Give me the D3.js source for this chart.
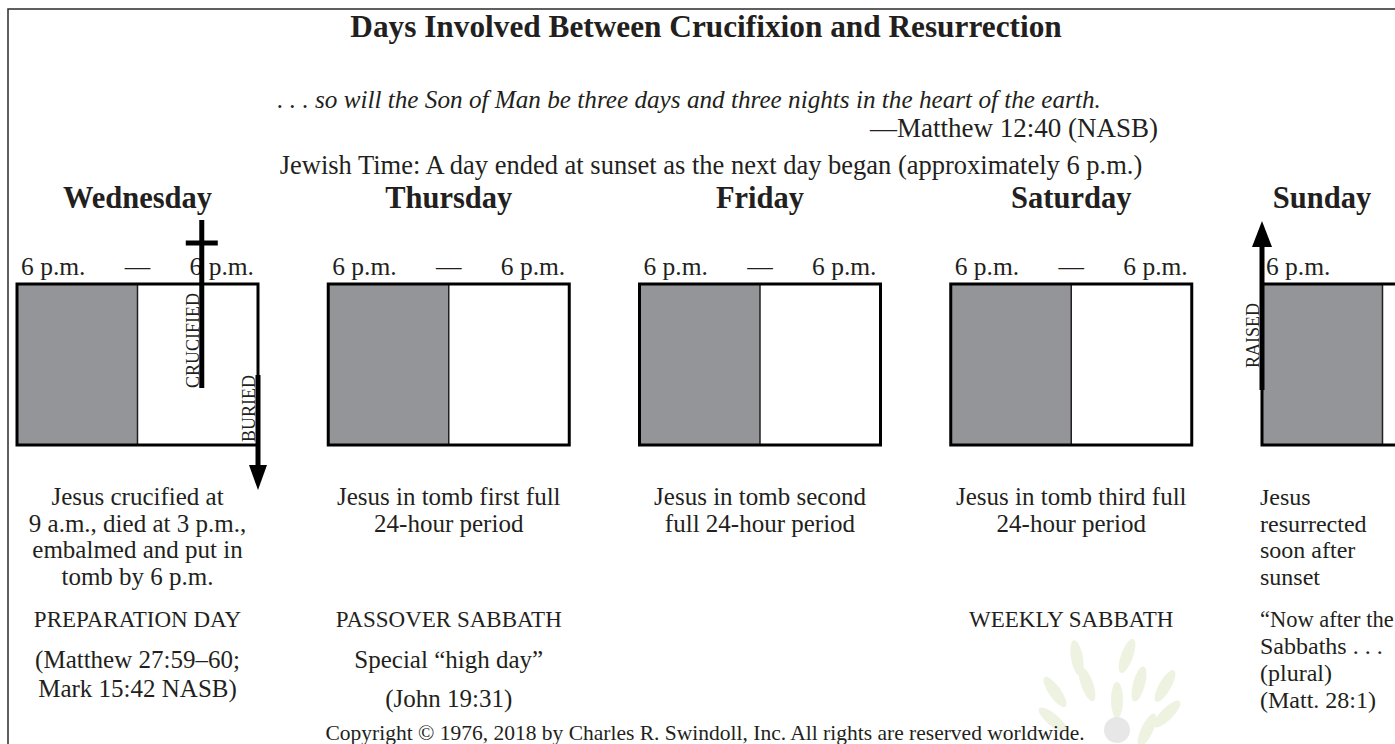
<!DOCTYPE html>
<html><head><meta charset="utf-8">
<script src="https://cdn.jsdelivr.net/npm/d3@7"></script>
<style>
html,body{margin:0;padding:0;background:#fff;overflow:hidden;}
svg{display:block;}
text{font-family:"Liberation Serif","Times New Roman",serif;fill:#231f20;}
</style></head><body>
<svg id="chart" width="1395" height="744"></svg>
<script>
// ---------- data ----------
const titleText = "Days Involved Between Crucifixion and Resurrection";
const quoteText = ". . . so will the Son of Man be three days and three nights in the heart of the earth.";
const quoteSource = "\u2014Matthew 12:40 (NASB)";
const jewishTime = "Jewish Time: A day ended at sunset as the next day began (approximately 6 p.m.)";
const copyrightText = "Copyright \u00a9 1976, 2018 by Charles R. Swindoll, Inc. All rights are reserved worldwide.";

const days = ["Wednesday", "Thursday", "Friday", "Saturday", "Sunday"];
const nightHours = [12, 12, 12, 12, 12];       // sunset (6 p.m.) to sunrise
const dayLength = 24;
const startLabels = ["6 p.m.", "6 p.m.", "6 p.m.", "6 p.m.", "6 p.m."];
const endLabels = ["6 p.m.", "6 p.m.", "6 p.m.", "6 p.m.", ""];
const descriptions = [
  ["Jesus crucified at", "9 a.m., died at 3 p.m.,", "embalmed and put in", "tomb by 6 p.m."],
  ["Jesus in tomb first full", "24-hour period"],
  ["Jesus in tomb second", "full 24-hour period"],
  ["Jesus in tomb third full", "24-hour period"],
  ["Jesus", "resurrected", "soon after", "sunset"]
];
const sabbathNames = ["PREPARATION DAY", "PASSOVER SABBATH", "", "WEEKLY SABBATH", "\u201cNow after the"];
const notes = [
  ["(Matthew 27:59\u201360;", "Mark 15:42 NASB)"],
  ["Special \u201chigh day\u201d", "(John 19:31)"],
  [],
  [],
  ["Sabbaths . . .", "(plural)", "(Matt. 28:1)"]
];
const eventDays = ["Wednesday", "Wednesday", "Sunday"];
const eventHours = [18.4, 24, 0];               // hours after the 6 p.m. start of the day
const eventLabels = ["CRUCIFIED", "BURIED", "RAISED"];
const eventKinds = ["cross", "down", "up"];

// ---------- layout ----------
const W = 1395, H = 744;
const L = {
  boxTop: 284, boxBottom: 445,
  titleY: 37, quoteY: 108, sourceY: 137, jewishY: 174, dayY: 208, timeY: 275,
  descY: 505, descStep: 26.7, sabbathY: 627,
  noteY: [668, 668, 668, 668, 654], noteStep: [29, 39, 29, 29, 27],
  copyrightY: 740
};

const svg = d3.select("#chart");
svg.append("rect").attr("x", 0).attr("y", 0).attr("width", W).attr("height", H).attr("fill", "#fff");

// ---------- watermark (faint leaves) ----------
const wm = svg.append("g").attr("opacity", 0.35);
const leafAngles = [-35, -20, 0, 15, 30, -50, 45, 25, -10, 20];
const leafOffsets = [[-62, -36], [-30, -44], [0, -28], [22, -44], [48, -42], [-64, -8], [50, -14], [30, 2], [-40, -70], [10, -72]];
leafAngles.forEach((a, i) => {
  wm.append("ellipse").attr("cx", 0).attr("cy", 0).attr("rx", 6).attr("ry", 18)
    .attr("fill", "#cfdca8")
    .attr("transform", `translate(${1117 + leafOffsets[i][0]},${728 + leafOffsets[i][1]}) rotate(${a})`);
});
wm.append("circle").attr("cx", 1117).attr("cy", 730).attr("r", 13).attr("fill", "#bdbdbd");

// outer frame (cropped at right/bottom)
svg.append("rect").attr("x", 8).attr("y", 9).attr("width", W + 20).attr("height", H + 20)
  .attr("fill", "none").attr("stroke", "#2b2b2b").attr("stroke-width", 1.5);

const x = d3.scaleBand().domain(days).range([17, 1503]).paddingInner(0.2257).paddingOuter(0);
const hour = d3.scaleLinear().domain([0, dayLength]).range([0, x.bandwidth()]);
const y = d3.scaleLinear().domain([0, 1]).range([L.boxBottom, L.boxTop]);

// ---------- headings ----------
svg.append("text").attr("x", 706).attr("y", L.titleY).attr("text-anchor", "middle")
  .attr("font-weight", "bold").attr("font-size", 31.3).text(titleText);
svg.append("text").attr("x", 689).attr("y", L.quoteY).attr("text-anchor", "middle")
  .attr("font-style", "italic").attr("font-size", 25.2).text(quoteText);
svg.append("text").attr("x", 1158).attr("y", L.sourceY).attr("text-anchor", "end")
  .attr("font-size", 27).text(quoteSource);
svg.append("text").attr("x", 711).attr("y", L.jewishY).attr("text-anchor", "middle")
  .attr("font-size", 26.5).text(jewishTime);

// ---------- columns ----------
const col = svg.selectAll("g.day").data(days).join("g").attr("class", "day")
  .attr("transform", d => `translate(${x(d)},0)`);

col.append("text").attr("x", (d, i) => i === 4 ? 60 : x.bandwidth() / 2).attr("y", L.dayY)
  .attr("text-anchor", "middle").attr("font-weight", "bold").attr("font-size", 30.5).text(d => d);

col.append("text").attr("x", 4).attr("y", L.timeY).attr("font-size", 25.5)
  .text((d, i) => startLabels[i]);
col.filter((d, i) => endLabels[i] !== "").append("text").attr("x", x.bandwidth() / 2).attr("y", L.timeY)
  .attr("text-anchor", "middle").attr("font-size", 25.5).text("\u2014");
col.append("text").attr("x", x.bandwidth() - 4).attr("y", L.timeY).attr("text-anchor", "end")
  .attr("font-size", 25.5).text((d, i) => endLabels[i]);

// box
col.append("rect").attr("x", 0).attr("y", y(1)).attr("width", (d, i) => hour(nightHours[i]))
  .attr("height", y(0) - y(1)).attr("fill", "#939598");
col.append("line").attr("x1", (d, i) => hour(nightHours[i])).attr("x2", (d, i) => hour(nightHours[i]))
  .attr("y1", y(1)).attr("y2", y(0)).attr("stroke", "#231f20").attr("stroke-width", 1.5);
col.append("rect").attr("x", 0).attr("y", y(1)).attr("width", x.bandwidth())
  .attr("height", y(0) - y(1)).attr("fill", "none").attr("stroke", "#000").attr("stroke-width", 3);

// descriptions
col.each(function (d, i) {
  const g = d3.select(this);
  const left = i === 4;
  const tx = left ? -2 : x.bandwidth() / 2;
  const anchor = left ? "start" : "middle";
  const fs = left ? 24 : 25;
  descriptions[i].forEach((line, j) => {
    g.append("text").attr("x", tx).attr("y", L.descY + j * L.descStep).attr("text-anchor", anchor)
      .attr("font-size", fs).text(line);
  });
  if (sabbathNames[i]) {
    g.append("text").attr("x", tx).attr("y", L.sabbathY).attr("text-anchor", anchor)
      .attr("font-size", left ? 22.5 : 23).text(sabbathNames[i]);
  }
  notes[i].forEach((line, j) => {
    g.append("text").attr("x", tx).attr("y", L.noteY[i] + j * L.noteStep[i]).attr("text-anchor", anchor)
      .attr("font-size", fs).text(line);
  });
});

// ---------- events ----------
eventDays.forEach((d, i) => {
  const ex = x(d) + hour(eventHours[i]);
  const kind = eventKinds[i];
  const g = svg.append("g");
  if (kind === "cross") {
    g.append("line").attr("x1", ex).attr("x2", ex).attr("y1", 220).attr("y2", 388)
      .attr("stroke", "#000").attr("stroke-width", 5);
    g.append("line").attr("x1", ex - 16).attr("x2", ex + 16).attr("y1", 243).attr("y2", 243)
      .attr("stroke", "#000").attr("stroke-width", 5);
    g.append("text").attr("transform", `translate(${ex - 3},388) rotate(-90)`)
      .attr("font-size", 18).text(eventLabels[i]);
  } else if (kind === "down") {
    g.append("line").attr("x1", ex).attr("x2", ex).attr("y1", 375).attr("y2", 470)
      .attr("stroke", "#000").attr("stroke-width", 5);
    g.append("path").attr("d", `M${ex - 9},465 L${ex + 9},465 L${ex},490 Z`).attr("fill", "#000");
    g.append("text").attr("transform", `translate(${ex - 3},442) rotate(-90)`)
      .attr("font-size", 18).text(eventLabels[i]);
  } else {
    g.append("line").attr("x1", ex).attr("x2", ex).attr("y1", 390).attr("y2", 240)
      .attr("stroke", "#000").attr("stroke-width", 5);
    g.append("path").attr("d", `M${ex - 10},247 L${ex + 10},247 L${ex},221 Z`).attr("fill", "#000");
    g.append("text").attr("transform", `translate(${ex - 3},368) rotate(-90)`)
      .attr("font-size", 18).text(eventLabels[i]);
  }
});

// copyright
svg.append("text").attr("x", 705).attr("y", L.copyrightY).attr("text-anchor", "middle")
  .attr("font-size", 21.5).text(copyrightText);
</script>
</body></html>
